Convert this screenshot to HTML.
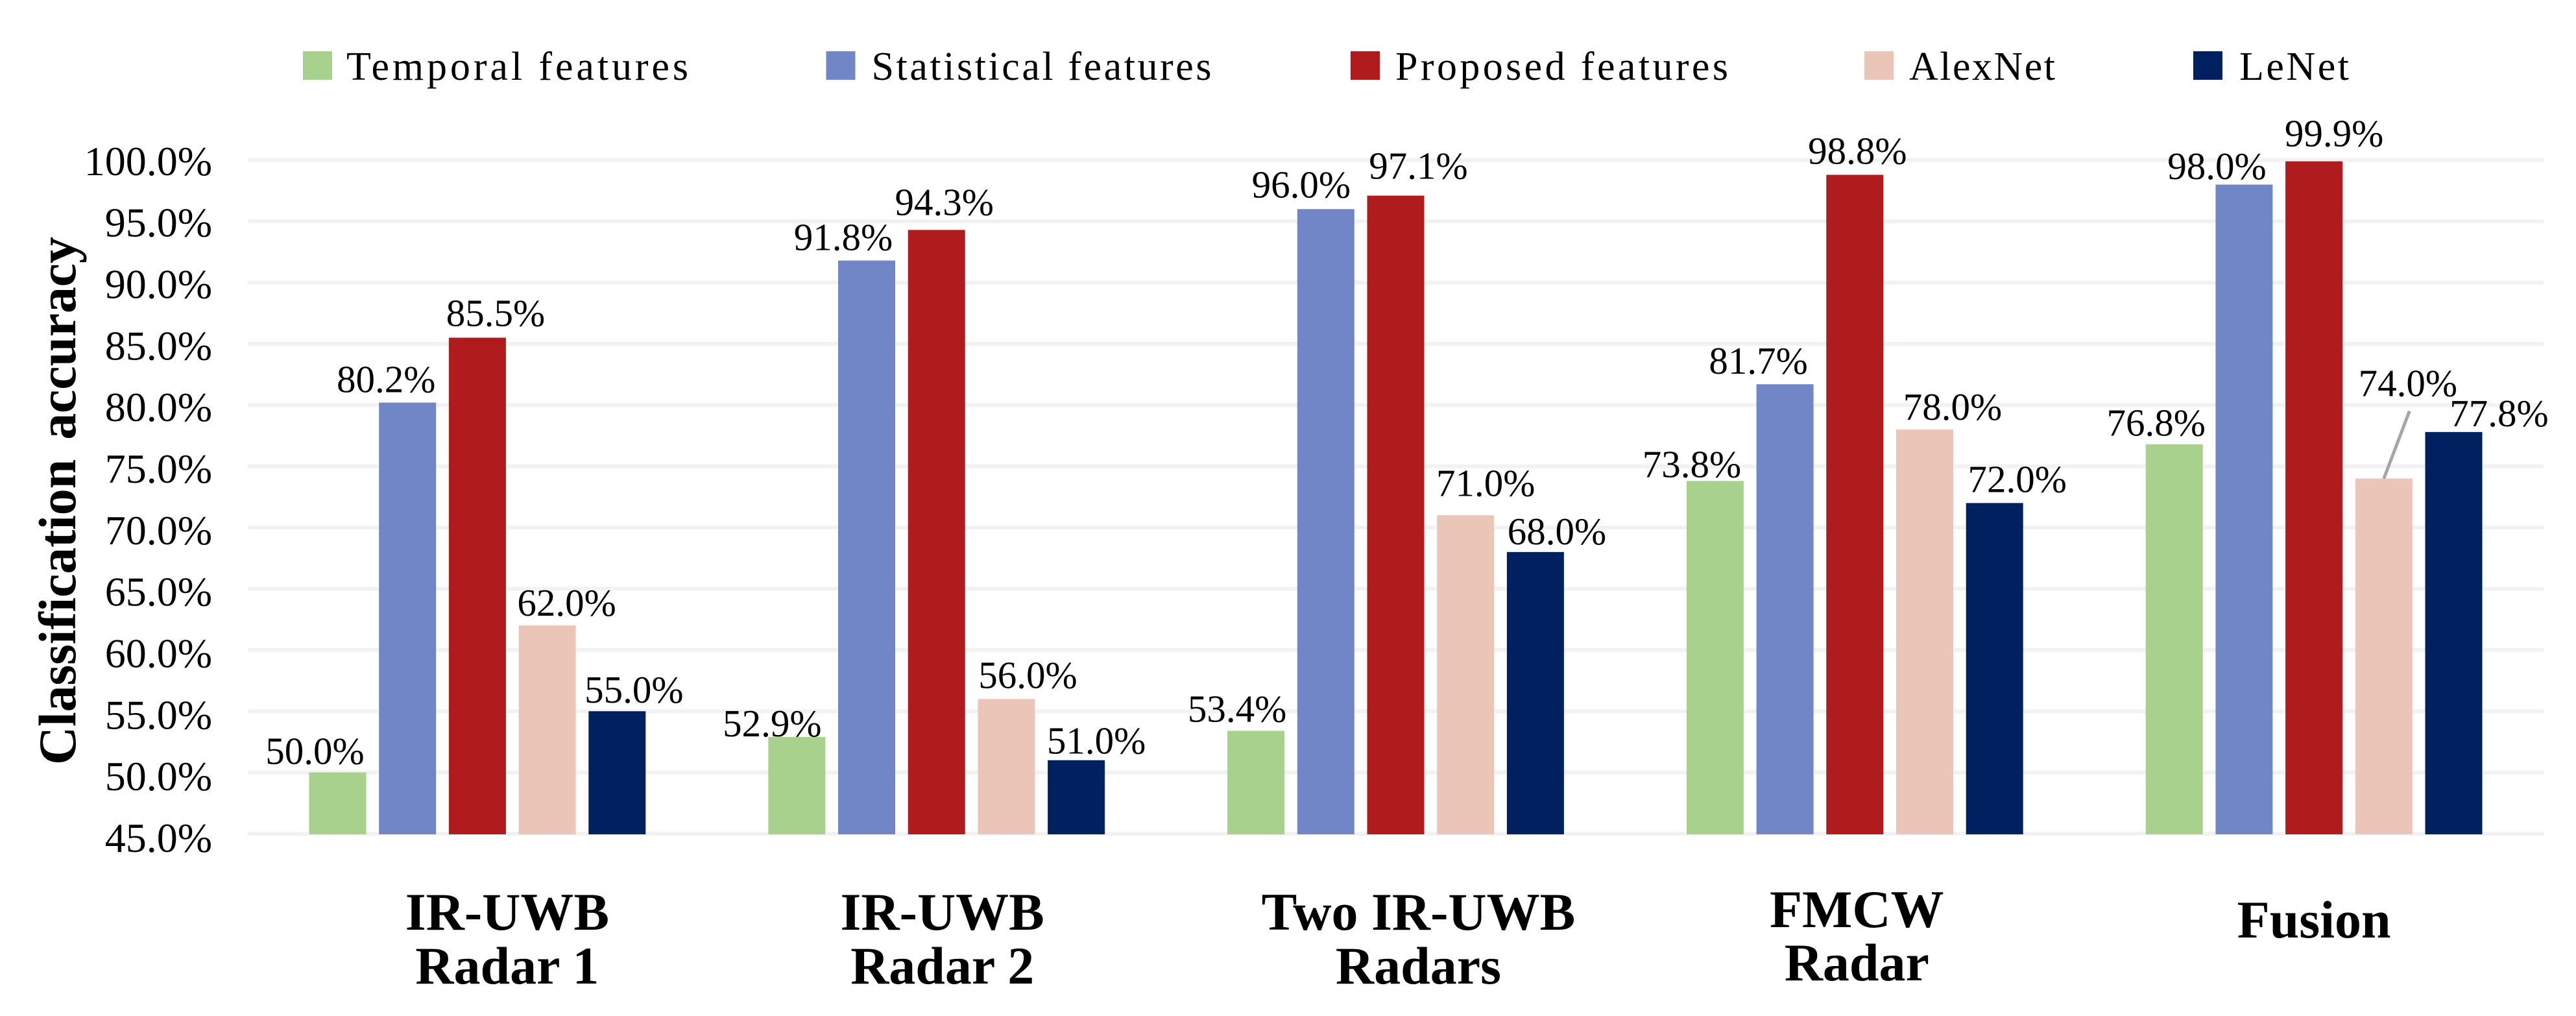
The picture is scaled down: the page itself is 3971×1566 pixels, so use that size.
<!DOCTYPE html>
<html lang="en">
<head>
<meta charset="utf-8">
<title>Classification accuracy by radar configuration</title>
<style>
  html, body { margin: 0; padding: 0; background: #ffffff; }
  body { width: 3971px; height: 1566px; overflow: hidden; }
  svg { display: block; }
  text { font-family: "Liberation Serif", "Times New Roman", serif; fill: #000000; }
  .tick { font-size: 64px; text-anchor: end; }
  .value { font-size: 59px; text-anchor: middle; }
  .legend { font-size: 62px; }
  .cat { font-size: 82px; font-weight: bold; text-anchor: middle; }
  .ytitle { font-size: 82px; font-weight: bold; word-spacing: 10px; }
</style>
</head>
<body>
<svg id="chart" xmlns="http://www.w3.org/2000/svg" width="3971" height="1566" viewBox="0 0 3971 1566">
  <g id="grid"></g>
  <g id="bars"></g>
  <g id="ticks"></g>
  <g id="values"></g>
  <g id="cats"></g>
  <g id="legend"></g>
  <text class="ytitle" transform="translate(116 1179) rotate(-90)" textLength="814" lengthAdjust="spacing">Classification accuracy</text>
</svg>
<script>
// ---- chart data ----
const categories = ["IR-UWB Radar 1", "IR-UWB Radar 2", "Two IR-UWB Radars", "FMCW Radar", "Fusion"];
const seriesNames = ["Temporal features", "Statistical features", "Proposed features", "AlexNet", "LeNet"];
const temporalValues = [50.0, 52.9, 53.4, 73.8, 76.8];
const statisticalValues = [80.2, 91.8, 96.0, 81.7, 98.0];
const proposedValues = [85.5, 94.3, 97.1, 98.8, 99.9];
const alexnetValues = [62.0, 56.0, 71.0, 78.0, 74.0];
const lenetValues = [55.0, 51.0, 68.0, 72.0, 77.8];
const yTickValues = [45, 50, 55, 60, 65, 70, 75, 80, 85, 90, 95, 100];

// ---- styling and layout (not data) ----
const seriesColors = ["#A9D18E", "#7086C6", "#B01C1E", "#EBC5B8", "#002060"];
const seriesKeys = ["temporal", "statistical", "proposed", "alexnet", "lenet"];
const plot = { left: 382, right: 3921, baseY: 1285, topY: 246.8, min: 45, max: 100 };
const barWidth = 88, barStep = 107.7;
// hand-placed data-label nudges: [dx from bar centre, gap above bar top] per category, per series
const labelNudges = [
  [[-35, 13], [-33, 16], [28, 18], [30, 15], [26, 13]],
  [[-38, 1], [-36, 16], [12, 23], [33, 17], [31, 10]],
  [[-29, 14], [-38, 18], [35, 26], [31, 29.5], [33, 12]],
  [[-36, 6], [-41, 16], [4, 17], [43, 15], [35, 17]],
  [[-28, 13], [-42, 8.5], [31, 23], [37, 127], [70, 9]]
];
const categoryLayout = [
  { lines: ["IR-UWB", "Radar 1"], dx: 46, y: [1433, 1516] },
  { lines: ["IR-UWB", "Radar 2"], dx: 9, y: [1433, 1516] },
  { lines: ["Two IR-UWB", "Radars"], dx: 35, y: [1433, 1516] },
  { lines: ["FMCW", "Radar"], dx: 3, y: [1429, 1511] },
  { lines: ["Fusion"], dx: 0, y: [1445] }
];
const legendLayout = [
  { swatch: 467, text: 534, width: 527 },
  { swatch: 1273.5, text: 1343.5, width: 524 },
  { swatch: 2082, text: 2151, width: 513 },
  { swatch: 2874, text: 2943, width: 225 },
  { swatch: 3381, text: 3452, width: 169 }
];

const allSeries = [temporalValues, statisticalValues, proposedValues, alexnetValues, lenetValues];
const NS = "http://www.w3.org/2000/svg";

function yScale(v) {
  return plot.baseY - (v - plot.min) * (plot.baseY - plot.topY) / (plot.max - plot.min);
}
function groupCenter(i) {
  return plot.left + (plot.right - plot.left) / categories.length * (i + 0.5);
}
function barCenter(i, s) {
  return groupCenter(i) + (s - 2) * barStep;
}
function make(tag, attrs, parent, content) {
  const el = document.createElementNS(NS, tag);
  for (const k in attrs) el.setAttribute(k, attrs[k]);
  if (content !== undefined) el.textContent = content;
  parent.appendChild(el);
  return el;
}

const gridG = document.getElementById("grid");
const tickG = document.getElementById("ticks");
yTickValues.forEach(function (v) {
  const line = make("line", { x1: plot.left, x2: plot.right, y1: yScale(v), y2: yScale(v), stroke: "#f2f2f2", "stroke-width": 6 }, gridG);
  
  
  const label = make("text", { class: "tick", x: 327, y: yScale(v) + 23 + (100 - v) * 0.09 }, tickG, v.toFixed(1) + "%");
  
  
});

const barG = document.getElementById("bars");
const valueG = document.getElementById("values");
allSeries.forEach(function (vals, s) {
  vals.forEach(function (v, i) {
    const cx = barCenter(i, s);
    const top = yScale(v);
    const rect = make("rect", { x: cx - barWidth / 2, y: top, width: barWidth, height: plot.baseY + 1 - top, fill: seriesColors[s] }, barG);
    
    
    const nudge = labelNudges[i][s];
    const label = make("text", { class: "value", x: cx + nudge[0], y: top - nudge[1] }, valueG, v.toFixed(1) + "%");
    
    
    if (s === 3 && i === 4) {
      const leader = make("line", { x1: cx, y1: top, x2: cx + 39.5, y2: top - 104, stroke: "#a6a6a6", "stroke-width": 5 }, valueG);
      
      
    }
  });
});

const catG = document.getElementById("cats");
categoryLayout.forEach(function (c, i) {
  c.lines.forEach(function (txt, l) {
    const label = make("text", { class: "cat", x: groupCenter(i) + c.dx, y: c.y[l] }, catG, txt);
    
    
  });
});

const legendG = document.getElementById("legend");
seriesNames.forEach(function (name, s) {
  const pos = legendLayout[s];
  const swatch = make("rect", { x: pos.swatch, y: 79, width: 45, height: 44, fill: seriesColors[s] }, legendG);
  
  
  const label = make("text", { class: "legend", x: pos.text, y: 123, textLength: pos.width, lengthAdjust: "spacing" }, legendG, name);
  
  
});
</script>
</body>
</html>
